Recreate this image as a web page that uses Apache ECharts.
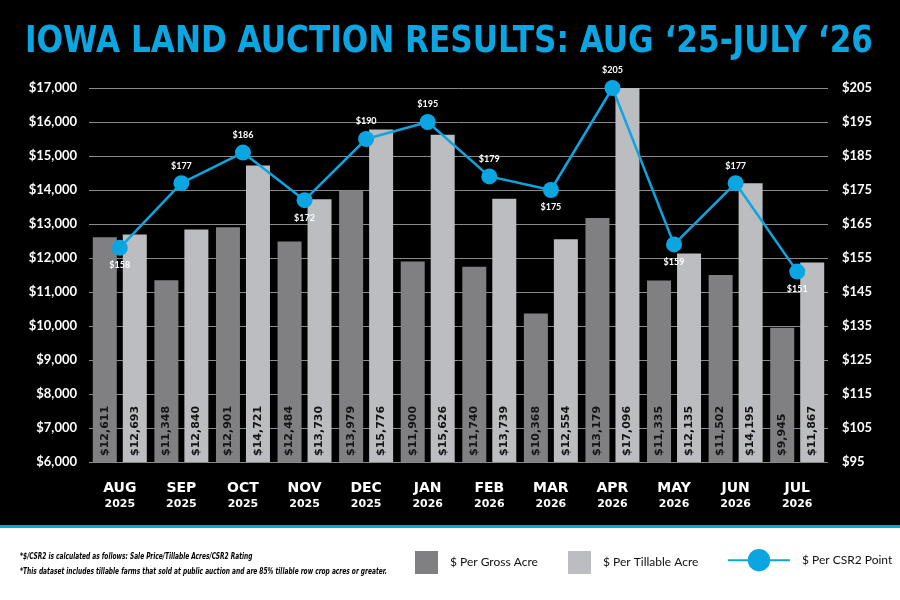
<!DOCTYPE html>
<html lang="en">
<head>
  <meta charset="UTF-8">
  <title>Iowa Land Auction Results</title>
  <style>
    html, body { margin: 0; padding: 0; background: #fff; }
    #main { width: 900px; height: 600px; }
  </style>
</head>
<body>
  <div id="main"></div>
  <script src="https://cdn.jsdelivr.net/npm/echarts@6/dist/echarts.min.js"></script>
  <script>
    // data
    var months = ['AUG', 'SEP', 'OCT', 'NOV', 'DEC', 'JAN', 'FEB', 'MAR', 'APR', 'MAY', 'JUN', 'JUL'];
    var years = ['2025', '2025', '2025', '2025', '2025', '2026', '2026', '2026', '2026', '2026', '2026', '2026'];
    var grossAcre = [12611, 11348, 12901, 12484, 13979, 11900, 11740, 10368, 13179, 11335, 11502, 9945];
    var tillableAcre = [12693, 12840, 14721, 13730, 15776, 15626, 13739, 12554, 17096, 12135, 14195, 11867];
    var csr2Point = [158, 177, 186, 172, 190, 195, 179, 175, 205, 159, 177, 151];

    var titleText = 'IOWA LAND AUCTION RESULTS: AUG \u201825-JULY \u201826';
    var note1 = '*$/CSR2 is calculated as follows: Sale Price/Tillable Acres/CSR2 Rating';
    var note2 = '*This dataset includes tillable farms that sold at public auction and are 85% tillable row crop acres or greater.';

    var BLUE = '#0ba5e2';
    var FONT = 'Lato, "DejaVu Sans", sans-serif';
    var TITLE_FONT = 'bold 38px "DejaVu Sans", sans-serif';
    var NOTE_FONT = 'italic 600 8px "DejaVu Sans Condensed", "DejaVu Sans", sans-serif';

    function money(v) {
      return '$' + Number(v).toLocaleString('en-US');
    }

    // squeeze a line of text horizontally so it fills the given width
    var measureCtx = document.createElement('canvas').getContext('2d');
    function fitScale(text, font, width) {
      measureCtx.font = font;
      return width / measureCtx.measureText(text).width;
    }

    // label under the point when it is lower than its neighbours
    function isDip(arr, i) {
      var prev = i > 0 ? arr[i - 1] : Infinity;
      var next = i < arr.length - 1 ? arr[i + 1] : Infinity;
      return arr[i] < prev && arr[i] < next;
    }

    var categories = months.map(function (m, i) { return m + '\n' + years[i]; });

    var csr2Data = csr2Point.map(function (v, i) {
      return { value: v, label: { position: isDip(csr2Point, i) ? 'bottom' : 'top' } };
    });

    var barLabel = {
      show: true,
      position: 'insideBottom',
      rotate: 90,
      align: 'left',
      verticalAlign: 'middle',
      distance: 6,
      color: '#141414',
      fontFamily: '"DejaVu Sans", sans-serif',
      fontSize: 11,
      fontWeight: 'bold',
      formatter: function (p) { return money(p.value); }
    };

    var legendText = { color: '#111', fontFamily: FONT, fontSize: 12, padding: [0, 0, 0, 7] };

    var chart = echarts.init(document.getElementById('main'));

    var option = {
      backgroundColor: '#ffffff',
      animation: false,
      graphic: [
        { type: 'rect', z: -10, shape: { x: 0, y: 0, width: 900, height: 525 }, style: { fill: '#000000' } },
        { type: 'rect', z: -10, shape: { x: 0, y: 525, width: 900, height: 3 }, style: { fill: BLUE } },
        {
          type: 'text', x: 449, y: 42, scaleX: fitScale(titleText, TITLE_FONT, 848),
          style: { text: titleText, fill: BLUE, align: 'center', verticalAlign: 'middle', font: TITLE_FONT }
        },
        {
          type: 'text', x: 20, y: 557, scaleX: fitScale(note2, NOTE_FONT, 367),
          style: { text: note1, fill: '#000', verticalAlign: 'middle', font: NOTE_FONT }
        },
        {
          type: 'text', x: 20, y: 572, scaleX: fitScale(note2, NOTE_FONT, 367),
          style: { text: note2, fill: '#000', verticalAlign: 'middle', font: NOTE_FONT }
        }
      ],
      legend: [
        {
          data: ['$ Per Gross Acre'], left: 410, top: 546, icon: 'rect', itemWidth: 23, itemHeight: 23,
          textStyle: legendText
        },
        {
          data: ['$ Per Tillable Acre'], left: 563, top: 546, icon: 'rect', itemWidth: 23, itemHeight: 23,
          textStyle: legendText
        },
        {
          data: ['$ Per CSR2 Point'], left: 722, top: 544, itemWidth: 62, itemHeight: 28,
          textStyle: legendText
        }
      ],
      grid: { left: 89, right: 72, top: 88, bottom: 138 },
      xAxis: {
        type: 'category',
        data: categories,
        axisLine: { show: false },
        axisTick: { show: false },
        axisLabel: {
          margin: 18,
          interval: 0,
          formatter: function (v) {
            var parts = v.split('\n');
            return '{m|' + parts[0] + '}\n{y|' + parts[1] + '}';
          },
          rich: {
            m: { color: '#fff', fontFamily: '"DejaVu Sans", sans-serif', fontWeight: 'bold', fontSize: 14, lineHeight: 17 },
            y: { color: '#fff', fontFamily: '"DejaVu Sans", sans-serif', fontWeight: 'bold', fontSize: 11, lineHeight: 15 }
          }
        }
      },
      yAxis: [
        {
          type: 'value',
          min: 6000,
          max: 17000,
          interval: 1000,
          axisLine: { show: false },
          axisTick: { show: false },
          splitLine: { lineStyle: { color: '#8a8a8a', width: 1 } },
          axisLabel: {
            color: '#fff', fontFamily: FONT, fontWeight: 'bold', fontSize: 13, margin: 12,
            formatter: money
          }
        },
        {
          type: 'value',
          min: 95,
          max: 205,
          interval: 10,
          axisLine: { show: false },
          axisTick: { show: false },
          splitLine: { show: false },
          axisLabel: {
            color: '#fff', fontFamily: FONT, fontWeight: 'bold', fontSize: 13, margin: 14,
            formatter: function (v) { return '$' + v; }
          }
        }
      ],
      series: [
        {
          name: '$ Per Gross Acre',
          type: 'bar',
          data: grossAcre,
          barWidth: 24,
          barGap: '25%',
          itemStyle: { color: '#808083' },
          label: barLabel
        },
        {
          name: '$ Per Tillable Acre',
          type: 'bar',
          data: tillableAcre,
          barWidth: 24,
          barGap: '25%',
          itemStyle: { color: '#bcbdc0' },
          label: barLabel
        },
        {
          name: '$ Per CSR2 Point',
          type: 'line',
          yAxisIndex: 1,
          data: csr2Data,
          symbol: 'circle',
          symbolSize: 16,
          z: 5,
          lineStyle: { color: BLUE, width: 2.5 },
          itemStyle: { color: BLUE },
          label: {
            show: true,
            color: '#fff',
            fontFamily: FONT,
            fontWeight: 'bold',
            fontSize: 9,
            formatter: function (p) { return '$' + p.value; }
          }
        }
      ]
    };

    chart.setOption(option);
  </script>
</body>
</html>
